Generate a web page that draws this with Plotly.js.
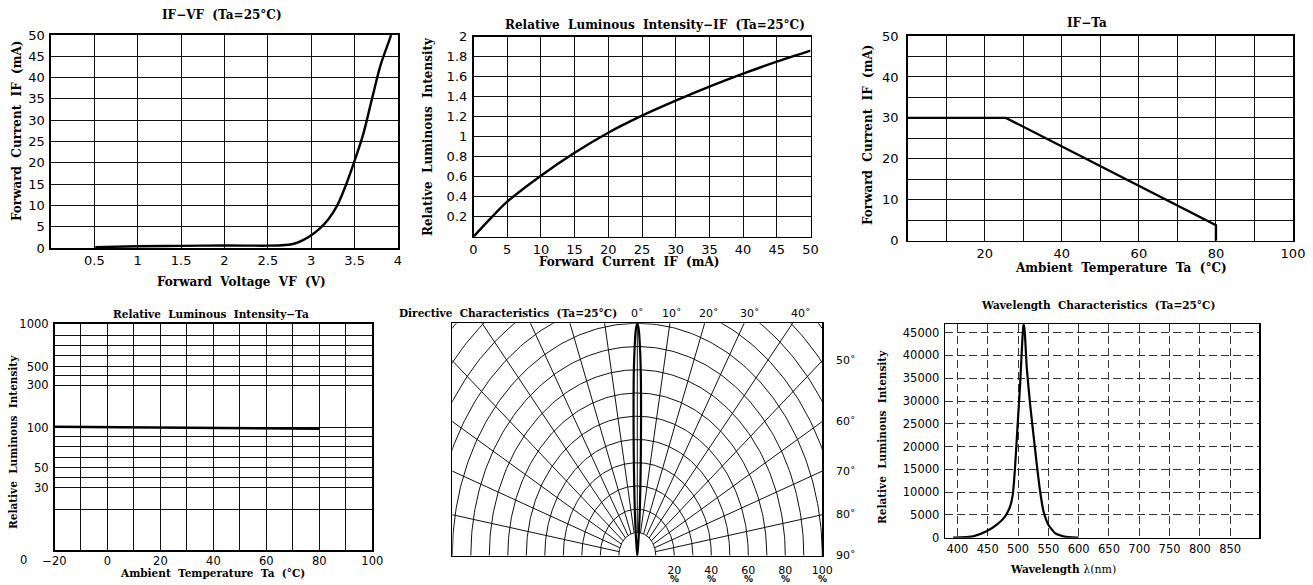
<!DOCTYPE html>
<html><head><meta charset="utf-8">
<script src="https://cdn.plot.ly/plotly-3.0.1.min.js"></script>
<style>html,body{margin:0;padding:0;background:#fff;}#chart{width:1313px;height:585px;}</style>
</head><body><div id="chart"></div>
<script>
// ---------- DATA ----------
// IF-VF
const ifvfVoltage = [0.51, 1.0, 1.5, 2.0, 2.5, 2.7, 2.8, 2.9, 3.0, 3.1, 3.2, 3.3, 3.4, 3.5, 3.6, 3.7, 3.8, 3.9, 3.92];
const ifvfCurrent = [0.2, 0.4, 0.5, 0.6, 0.55, 0.7, 1.0, 1.8, 3.0, 4.6, 6.8, 10.0, 14.8, 20.5, 26.8, 35.0, 43.0, 48.8, 50];
const ifvfXTicks = [0.5, 1, 1.5, 2, 2.5, 3, 3.5, 4];
const ifvfYTicks = [0, 5, 10, 15, 20, 25, 30, 35, 40, 45, 50];

// Relative luminous intensity - IF
const rliCurrent = [0, 2.5, 5, 10, 15, 20, 25, 30, 35, 40, 45, 50];
const rliValue = [0.0, 0.18, 0.35, 0.61, 0.84, 1.04, 1.21, 1.36, 1.50, 1.63, 1.75, 1.86];
const rliXTicks = [0, 5, 10, 15, 20, 25, 30, 35, 40, 45, 50];
const rliYTicks = [0.2, 0.4, 0.6, 0.8, 1, 1.2, 1.4, 1.6, 1.8, 2];
const rliYText = ["0.2", "0.4", "0.6", "0.8", "1", "1.2", "1.4", "1.6", "1.8", "2"];

// IF - Ta (derating)
const deratTemp = [0, 25.5, 80, 80];
const deratCurrent = [30, 30, 3.8, 0];
const deratXTicks = [10, 20, 30, 40, 50, 60, 70, 80, 90, 100];
const deratXText = ["", "20", "", "40", "", "60", "", "80", "", "100"];
const deratYTicks = [0, 5, 10, 15, 20, 25, 30, 35, 40, 45, 50];
const deratYText = ["0", "", "10", "", "20", "", "30", "", "40", "", "50"];

// Relative luminous intensity - Ta
const rltTemp = [-20, 0, 20, 40, 60, 80];
const rltValue = [102, 101, 100, 99, 98.5, 97.8];
const rltXTicks = [-20, -10, 0, 10, 20, 30, 40, 50, 60, 70, 80, 90, 100];
const rltXText = ["\u221220", "", "0", "", "20", "", "40", "", "60", "", "80", "", "100"];
const rltYTicks = [1000, 783, 618, 495, 387, 322, 258, 100, 81.9, 65.6, 51.4, 41.2, 33, 26.4, 16.1];
const rltYText = ["1000", "", "", "", "500", "", "300", "100", "", "", "", "50", "", "30", ""];

// Directive characteristics (angle in degrees, relative intensity in %)
const beamAngle = [-7, -6, -5, -4, -3.5, -3, -2.5, -2, -1.5, -1, -0.5, 0, 0.5, 1, 1.5, 2, 2.5, 3, 3.5, 4, 5, 6, 7];
const beamIntensity = [0, 4, 10, 19, 25, 33, 44, 58, 75, 88, 97, 100, 97, 88, 75, 58, 44, 33, 25, 19, 10, 4, 0];
const dirPctTicks = [20, 40, 60, 80, 100];
const dirTopAngles = [0, 10, 20, 30, 40];
const dirSideAngles = [50, 60, 70, 80, 90];

// Wavelength characteristics
const wlNm = [393, 426, 448, 465, 478.7, 487, 491.3, 495, 499, 503.4, 506.7, 509, 511, 514.4, 520, 525.4, 531, 536.4, 542, 550, 561, 575, 597, 600];
const wlIntensity = [0, 300, 1400, 2850, 4700, 6900, 9400, 15300, 24100, 33600, 42400, 47200, 45300, 37300, 29200, 22600, 16000, 10200, 5800, 2850, 1000, 300, 0, 0];
const wlXTicks = [400, 450, 500, 550, 600, 650, 700, 750, 800, 850];
const wlYTicks = [0, 5000, 10000, 15000, 20000, 25000, 30000, 35000, 40000, 45000];

// ---------- LAYOUT HELPERS ----------
const W = 1313, H = 585;
const px = v => v / W;
const py = v => 1 - v / H;
const domX = (a, b) => [px(a), px(b)];
const domY = (top, bottom) => [py(bottom), py(top)];

const tickTop = {family: 'DejaVu Sans, Verdana, sans-serif', size: 13, color: '#000'};
const tickBot = {family: 'DejaVu Sans, Verdana, sans-serif', size: 11.5, color: '#000'};

function ax(extra) {
  return Object.assign({
    showline: true, linecolor: '#000', linewidth: 1.6, mirror: true,
    showgrid: true, gridcolor: '#111', gridwidth: 1,
    zeroline: false, ticks: '', fixedrange: true, tickmode: 'array',
    ticklabelstandoff: 2
  }, extra);
}
function xax(extra) { return ax(Object.assign({ticklabelstandoff: 0}, extra)); }

const layout = {
  width: W, height: H,
  margin: {l: 0, r: 0, t: 0, b: 0},
  paper_bgcolor: '#fff', plot_bgcolor: '#fff',
  showlegend: false, hovermode: false,
  // chart 1
  xaxis: xax({domain: domX(51, 398), range: [0, 4], tickvals: ifvfXTicks, ticktext: ifvfXTicks.map(String), tickfont: tickTop, anchor: 'y'}),
  yaxis: ax({domain: domY(35, 248), range: [0, 50], tickvals: ifvfYTicks, ticktext: ifvfYTicks.map(String), tickfont: tickTop, anchor: 'x'}),
  // chart 2
  xaxis2: xax({domain: domX(473.5, 810.5), range: [0, 50], tickvals: rliXTicks, ticktext: rliXTicks.map(String), tickfont: tickTop, anchor: 'y2'}),
  yaxis2: ax({domain: domY(36.7, 236.7), range: [0, 2], tickvals: rliYTicks, ticktext: rliYText, tickfont: tickTop, anchor: 'x2'}),
  // chart 3
  xaxis3: xax({domain: domX(907.7, 1293), range: [0, 100], tickvals: deratXTicks, ticktext: deratXText, tickfont: tickTop, anchor: 'y3'}),
  yaxis3: ax({domain: domY(36, 240.7), range: [0, 50], tickvals: deratYTicks, ticktext: deratYText, tickfont: tickTop, anchor: 'x3', ticklabelstandoff: 5}),
  // chart 4
  xaxis4: xax({domain: domX(54.5, 372.3), range: [-20, 100], tickvals: rltXTicks, ticktext: rltXText, tickfont: tickBot, anchor: 'y4'}),
  yaxis4: ax({domain: domY(324, 550), type: 'log', range: [0.8206, 3], tickvals: rltYTicks, ticktext: rltYText, tickfont: tickBot, anchor: 'x4'}),
  // chart 5
  xaxis5: xax({domain: domX(452.3, 822.3), range: [-100, 100], showgrid: false, tickvals: dirPctTicks, ticktext: dirPctTicks.map(String), tickfont: {family: 'DejaVu Sans, sans-serif', size: 11, color: '#000'}, anchor: 'y5', ticklabelstandoff: 3}),
  yaxis5: ax({domain: domY(323.3, 555.7), range: [0, 100], showgrid: false, showticklabels: false, anchor: 'x5'}),
  // chart 6
  xaxis6: xax({domain: domX(945.3, 1259.3), range: [380, 898], tickvals: wlXTicks, ticktext: wlXTicks.map(String), tickfont: tickBot, anchor: 'y6', griddash: '8px,4px', gridcolor: '#333'}),
  yaxis6: ax({domain: domY(324.3, 537.7), range: [0, 46840], tickvals: wlYTicks, ticktext: wlYTicks.map(String), tickfont: tickBot, anchor: 'x6', griddash: '8px,4px', gridcolor: '#333'}),
  annotations: []
};

const serifBold = (size) => ({family: 'DejaVu Serif, serif', size: size, color: '#000', weight: 'bold'});
function label(text, x, y, size, angle) {
  layout.annotations.push({text: text, x: px(x), y: py(y), xref: 'paper', yref: 'paper',
    xanchor: 'center', yanchor: 'middle', showarrow: false, textangle: angle || 0,
    font: serifBold(size)});
}
// top row
label('IF\u2212VF  (Ta=25\u00b0C)', 222, 15, 12);
label('Forward  Voltage  VF  (V)', 241, 282, 12);
label('Forward  Current  IF  (mA)', 17, 131, 12, -90);
label('Relative  Luminous  Intensity\u2212IF  (Ta=25\u00b0C)', 655, 25, 12);
label('Forward  Current  IF  (mA)', 629, 262, 12);
label('Relative  Luminous  Intensity', 428, 137, 12, -90);
label('IF\u2212Ta', 1087, 23, 12);
label('Ambient  Temperature  Ta  (\u00b0C)', 1121, 268, 12);
label('Forward  Current  IF  (mA)', 868, 135, 12, -90);
// bottom row
label('Relative  Luminous  Intensity\u2212Ta', 211, 314, 10.5);
label('Ambient  Temperature  Ta  (\u00b0C)', 212, 573, 10.5);
label('Relative  Luminous  Intensity', 13, 442, 10.5, -90);
label('Directive  Characteristics  (Ta=25\u00b0C)', 508, 313, 10.5);
label('Wavelength  Characteristics  (Ta=25\u00b0C)', 1098, 305, 10.5);
label('Wavelength <span style="font-weight:normal;font-size:11px">\u03bb(nm)</span>', 1063, 569, 10.5);
label('Relative  Luminous  Intensity', 882, 437, 10.5, -90);

// stray "0" label of chart 4
layout.annotations.push({text: '0', x: px(23), y: py(560), xref: 'paper', yref: 'paper', showarrow: false,
  xanchor: 'center', yanchor: 'middle', font: tickBot});

// directive chart labels
const deg = Math.PI / 180;
const dirFont = {family: 'DejaVu Sans, sans-serif', size: 11, color: '#000'};
dirTopAngles.forEach(a => {
  layout.annotations.push({text: a + '\u02da', x: 100 * Math.tan(a * deg), y: py(313), xref: 'x5', yref: 'paper',
    xanchor: 'center', yanchor: 'middle', xshift: a * 0.2, showarrow: false, font: dirFont});
});
dirSideAngles.forEach(a => {
  layout.annotations.push({text: a + '\u02da', x: px(834), y: 100 / Math.tan(a * deg), xref: 'paper', yref: 'y5',
    xanchor: 'left', yanchor: 'middle', showarrow: false, font: dirFont});
});
dirPctTicks.forEach(v => {
  layout.annotations.push({text: '%', x: v, y: py(579), xref: 'x5', yref: 'paper',
    xanchor: 'center', yanchor: 'middle', showarrow: false,
    font: {family: 'DejaVu Sans, sans-serif', size: 9, color: '#000', weight: 'bold'}});
});

// ---------- TRACES ----------
const curve = (w) => ({color: '#000', width: w});
const traces = [];
traces.push({x: ifvfVoltage, y: ifvfCurrent, xaxis: 'x', yaxis: 'y', mode: 'lines', line: Object.assign(curve(2.4), {shape: 'spline', smoothing: 1})});
traces.push({x: rliCurrent, y: rliValue, xaxis: 'x2', yaxis: 'y2', mode: 'lines', line: Object.assign(curve(2.4), {shape: 'spline', smoothing: 0.8})});
traces.push({x: deratTemp, y: deratCurrent, xaxis: 'x3', yaxis: 'y3', mode: 'lines', line: curve(2.4)});
traces.push({x: rltTemp, y: rltValue, xaxis: 'x4', yaxis: 'y4', mode: 'lines', line: curve(2.4)});

// polar grid (elliptic, drawn on cartesian axes)
const gx = [], gy = [];
for (let r = 10; r <= 140; r += 10) {
  for (let t = -90; t <= 90; t += 1) { gx.push(r * Math.sin(t * deg)); gy.push(r * Math.cos(t * deg)); }
  gx.push(null); gy.push(null);
}
for (let t = -80; t <= 80; t += 10) {
  gx.push(10 * Math.sin(t * deg), 160 * Math.sin(t * deg), null);
  gy.push(10 * Math.cos(t * deg), 160 * Math.cos(t * deg), null);
}
traces.push({x: gx, y: gy, xaxis: 'x5', yaxis: 'y5', mode: 'lines', line: {color: '#111', width: 1}});
traces.push({
  x: beamAngle.map((a, i) => beamIntensity[i] * Math.sin(a * deg)),
  y: beamAngle.map((a, i) => beamIntensity[i] * Math.cos(a * deg)),
  xaxis: 'x5', yaxis: 'y5', mode: 'lines', line: Object.assign(curve(2.2), {shape: 'spline', smoothing: 0.6})
});
traces.push({x: wlNm, y: wlIntensity, xaxis: 'x6', yaxis: 'y6', mode: 'lines', line: Object.assign(curve(2.2), {shape: 'spline', smoothing: 0.5})});

Plotly.newPlot('chart', traces, layout, {staticPlot: true, displayModeBar: false});
</script></body></html>
